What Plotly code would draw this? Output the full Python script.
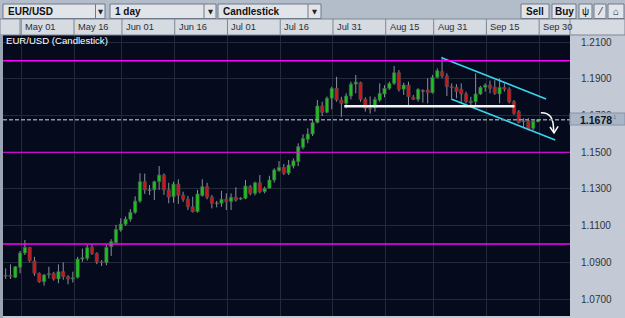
import numpy as np
import pandas as pd
import plotly.graph_objects as go

# ---------------- data ----------------
trade_dates = pd.bdate_range("2020-04-27", "2020-09-29")

open_ = [1.0825, 1.0829, 1.0818, 1.0873, 1.0951, 1.0982, 1.0907, 1.0840, 1.0794, 1.0833,
         1.0840, 1.0809, 1.0849, 1.0822, 1.0809, 1.0818, 1.0918, 1.0922, 1.0982, 1.0949,
         1.0903, 1.0898, 1.0985, 1.1007, 1.1076, 1.1107, 1.1135, 1.1173, 1.1234, 1.1340,
         1.1295, 1.1295, 1.1340, 1.1376, 1.1295, 1.1258, 1.1327, 1.1267, 1.1244, 1.1203,
         1.1176, 1.1264, 1.1313, 1.1255, 1.1222, 1.1222, 1.1244, 1.1231, 1.1255, 1.1245,
         1.1249, 1.1313, 1.1276, 1.1334, 1.1285, 1.1304, 1.1349, 1.1400, 1.1418, 1.1386,
         1.1425, 1.1449, 1.1527, 1.1571, 1.1600, 1.1662, 1.1753, 1.1718, 1.1795, 1.1849,
         1.1785, 1.1767, 1.1807, 1.1872, 1.1880, 1.1789, 1.1740, 1.1745, 1.1785, 1.1818,
         1.1849, 1.1876, 1.1934, 1.1844, 1.1867, 1.1800, 1.1789, 1.1836, 1.1840, 1.1825,
         1.1909, 1.1940, 1.1916, 1.1858, 1.1855, 1.1844, 1.1818, 1.1771, 1.1776, 1.1818,
         1.1855, 1.1867, 1.1855, 1.1818, 1.1855, 1.1844, 1.1776, 1.1722, 1.1666, 1.1673,
         1.1631, 1.1667]
high_ = [1.0867, 1.0889, 1.0880, 1.0962, 1.1022, 1.0984, 1.0930, 1.0845, 1.0836, 1.0876,
         1.0848, 1.0889, 1.0900, 1.0830, 1.0849, 1.0930, 1.0975, 1.0995, 1.1000, 1.0955,
         1.0912, 1.0995, 1.1026, 1.1104, 1.1140, 1.1150, 1.1190, 1.1260, 1.1386, 1.1384,
         1.1322, 1.1345, 1.1425, 1.1385, 1.1334, 1.1340, 1.1353, 1.1285, 1.1262, 1.1258,
         1.1295, 1.1353, 1.1334, 1.1267, 1.1235, 1.1290, 1.1276, 1.1276, 1.1309, 1.1255,
         1.1349, 1.1322, 1.1340, 1.1376, 1.1313, 1.1372, 1.1413, 1.1452, 1.1436, 1.1458,
         1.1467, 1.1549, 1.1598, 1.1631, 1.1676, 1.1785, 1.1776, 1.1804, 1.1858, 1.1912,
         1.1803, 1.1822, 1.1885, 1.1922, 1.1885, 1.1800, 1.1805, 1.1803, 1.1876, 1.1866,
         1.1885, 1.1971, 1.1949, 1.1880, 1.1885, 1.1813, 1.1849, 1.1844, 1.1904, 1.1922,
         1.1958, 1.2021, 1.1931, 1.1876, 1.1872, 1.1876, 1.1831, 1.1803, 1.1931, 1.1862,
         1.1876, 1.1891, 1.1894, 1.1904, 1.1876, 1.1855, 1.1785, 1.1731, 1.1686, 1.1686,
         1.1680, 1.1682]
low_ = [1.0809, 1.0809, 1.0814, 1.0840, 1.0940, 1.0900, 1.0826, 1.0788, 1.0773, 1.0812,
        1.0800, 1.0786, 1.0805, 1.0780, 1.0790, 1.0812, 1.0903, 1.0910, 1.0940, 1.0890,
        1.0880, 1.0884, 1.0935, 1.1004, 1.1067, 1.1098, 1.1122, 1.1164, 1.1225, 1.1273,
        1.1267, 1.1240, 1.1295, 1.1267, 1.1222, 1.1225, 1.1218, 1.1230, 1.1185, 1.1171,
        1.1171, 1.1258, 1.1244, 1.1194, 1.1200, 1.1203, 1.1185, 1.1185, 1.1231, 1.1240,
        1.1244, 1.1265, 1.1265, 1.1276, 1.1276, 1.1302, 1.1335, 1.1394, 1.1376, 1.1376,
        1.1412, 1.1425, 1.1516, 1.1549, 1.1589, 1.1658, 1.1698, 1.1713, 1.1735, 1.1776,
        1.1694, 1.1740, 1.1789, 1.1822, 1.1776, 1.1722, 1.1711, 1.1722, 1.1776, 1.1800,
        1.1840, 1.1867, 1.1831, 1.1813, 1.1758, 1.1785, 1.1776, 1.1771, 1.1767, 1.1820,
        1.1903, 1.1904, 1.1807, 1.1795, 1.1795, 1.1771, 1.1767, 1.1758, 1.1758, 1.1813,
        1.1831, 1.1822, 1.1813, 1.1767, 1.1831, 1.1767, 1.1704, 1.1658, 1.1631, 1.1620,
        1.1620, 1.1664]
close_ = [1.0828, 1.0822, 1.0876, 1.0951, 1.0982, 1.0909, 1.0840, 1.0794, 1.0831, 1.0838,
          1.0809, 1.0849, 1.0822, 1.0809, 1.0815, 1.0918, 1.0925, 1.0980, 1.0949, 1.0903,
          1.0898, 1.0982, 1.1013, 1.1080, 1.1109, 1.1136, 1.1173, 1.1234, 1.1340, 1.1295,
          1.1293, 1.1340, 1.1376, 1.1295, 1.1255, 1.1327, 1.1266, 1.1244, 1.1203, 1.1176,
          1.1273, 1.1313, 1.1255, 1.1222, 1.1222, 1.1244, 1.1231, 1.1255, 1.1240, 1.1250,
          1.1316, 1.1276, 1.1334, 1.1285, 1.1304, 1.1349, 1.1404, 1.1418, 1.1386, 1.1431,
          1.1454, 1.1531, 1.1576, 1.1600, 1.1662, 1.1753, 1.1718, 1.1795, 1.1849, 1.1785,
          1.1767, 1.1807, 1.1872, 1.1883, 1.1789, 1.1740, 1.1736, 1.1789, 1.1822, 1.1849,
          1.1876, 1.1934, 1.1844, 1.1867, 1.1803, 1.1789, 1.1844, 1.1834, 1.1825, 1.1909,
          1.1945, 1.1916, 1.1858, 1.1853, 1.1831, 1.1818, 1.1776, 1.1778, 1.1818, 1.1855,
          1.1867, 1.1849, 1.1822, 1.1855, 1.1844, 1.1776, 1.1713, 1.1662, 1.1670, 1.1626,
          1.1670, 1.1678]

date_labels = ["May 01", "May 16", "Jun 01", "Jun 16", "Jul 01", "Jul 16",
               "Jul 31", "Aug 15", "Aug 31", "Sep 15", "Sep 30"]
label_dates = ["2020-05-01", "2020-05-16", "2020-06-01", "2020-06-16", "2020-07-01",
               "2020-07-16", "2020-07-31", "2020-08-15", "2020-08-31", "2020-09-15",
               "2020-09-30"]

price_ticks = [1.07, 1.09, 1.11, 1.13, 1.15, 1.17, 1.19, 1.21]
price_tick_text = ["1.0700", "1.0900", "1.1100", "1.1300", "1.1500", "1.1700",
                   "1.1900", "1.2100"]
levels = [1.2000, 1.1500, 1.1000]
level_widths = [1.5, 1.1, 1.4]
current_price = 1.1678

# drawn objects (x in bar-index units, y in price)
channel_upper_x = [90.9, 112.7]
channel_upper_y = [1.2016, 1.1791]
channel_lower_x = [92.9, 114.6]
channel_lower_y = [1.1791, 1.1567]
support_x = [70.6, 106.1]
support_y = [1.1751, 1.1751]
arrow_x = [111.6, 112.8, 113.6, 114.1, 114.3, 114.35]
arrow_y = [1.1716, 1.1711, 1.1695, 1.1665, 1.1614, 1.1606]
arrowhead_x = [113.5, 114.35, 115.2]
arrowhead_y = [1.1638, 1.1606, 1.1641]

# ---------------- figure geometry ----------------
W, H = 625, 318
ML, MR, MT, MB = 3, 55, 35, 2
PW, PH = W - ML - MR, H - MT - MB
X_RANGE = [-0.563, 117.68]
Y_RANGE = [1.06073, 1.21398]


def px(x):
    return (x - ML) / PW


def py(y):
    return (H - MB - y) / PH


o = np.array(open_)
h = np.array(high_)
l = np.array(low_)
c = np.array(close_)
idx = np.arange(len(o))

# candle bodies
body_lo = np.minimum(o, c)
body_hi = np.maximum(o, c)
body_h = np.maximum(body_hi - body_lo, 0.00035)
body_base = (body_lo + body_hi) / 2 - body_h / 2
colors = []
for i in range(len(o)):
    if abs(c[i] - o[i]) < 0.00025:
        colors.append("#9aa0a8")
    elif c[i] > o[i]:
        colors.append("#1fbf1f")
    else:
        colors.append("#c8191b")
colors[-1] = "#4cf04c"

# wicks (split so they do not cross bodies)
wx, wy = [], []
for i in range(len(o)):
    wx += [i, i, None, i, i, None]
    wy += [body_hi[i], h[i], None, l[i], body_lo[i], None]

# x positions of calendar labels
tick_pos = []
for d in label_dates:
    k = int(np.searchsorted(trade_dates.values, np.datetime64(d)))
    tick_pos.append(k - 0.75)

fig = go.Figure()

fig.add_trace(go.Scatter(x=wx, y=wy, mode="lines",
                         line=dict(color="#8a9099", width=1),
                         hoverinfo="skip", showlegend=False))
fig.add_trace(go.Bar(x=idx, y=body_h, base=body_base, width=0.7,
                     marker=dict(color=colors, line=dict(color="#4a5058", width=0.6)),
                     showlegend=False, hoverinfo="skip"))

# channel, support and arrow drawings
for xs, ys in [(channel_upper_x, channel_upper_y), (channel_lower_x, channel_lower_y)]:
    fig.add_trace(go.Scatter(x=xs, y=ys, mode="lines",
                             line=dict(color="#38d4ef", width=1.6),
                             hoverinfo="skip", showlegend=False))
fig.add_trace(go.Scatter(x=support_x, y=support_y, mode="lines",
                         line=dict(color="#f4f4f4", width=2.6),
                         hoverinfo="skip", showlegend=False))
fig.add_trace(go.Scatter(x=arrow_x, y=arrow_y, mode="lines",
                         line=dict(color="#ffffff", width=1.5, shape="spline"),
                         hoverinfo="skip", showlegend=False))
fig.add_trace(go.Scatter(x=arrowhead_x, y=arrowhead_y, mode="lines",
                         line=dict(color="#ffffff", width=1.5),
                         hoverinfo="skip", showlegend=False))

shapes = []
# horizontal magenta levels
for lv, lw in zip(levels, level_widths):
    shapes.append(dict(type="line", xref="paper", yref="y", x0=0, x1=1, y0=lv, y1=lv,
                       line=dict(color="#ff00ff", width=lw), layer="above"))
# current price dashed line
shapes.append(dict(type="line", xref="paper", yref="y", x0=0, x1=1,
                   y0=current_price, y1=current_price,
                   line=dict(color="#8d96a6", width=1.5, dash="4px,2px"), layer="above"))

# ---------------- chrome: toolbar + header ----------------
TOOL_BG = "#b3bdca"
shapes.append(dict(type="rect", xref="paper", yref="paper", x0=px(0), x1=px(W),
                   y0=py(19), y1=py(0), fillcolor=TOOL_BG, line=dict(width=0), layer="above"))
shapes.append(dict(type="rect", xref="paper", yref="paper", x0=px(0), x1=px(W),
                   y0=py(35), y1=py(19), fillcolor="#d6dae1",
                   line=dict(color="#7c8695", width=1), layer="above"))
shapes.append(dict(type="line", xref="paper", yref="paper", x0=px(20), x1=px(20),
                   y0=py(35), y1=py(19), line=dict(color="#7c8695", width=1), layer="above"))
shapes.append(dict(type="line", xref="paper", yref="paper", x0=1, x1=1,
                   y0=py(35), y1=py(19), line=dict(color="#7c8695", width=1), layer="above"))
# left border
shapes.append(dict(type="rect", xref="paper", yref="paper", x0=px(0), x1=px(ML),
                   y0=py(H), y1=py(35), fillcolor="#9aa4b2", line=dict(width=0), layer="above"))

annotations = []
for pos, lab in zip(tick_pos, date_labels):
    shapes.append(dict(type="line", xref="x", yref="paper", x0=pos, x1=pos,
                       y0=py(35), y1=py(19), line=dict(color="#7c8695", width=1),
                       layer="above"))
    annotations.append(dict(x=pos, y=py(27.5), xref="x", yref="paper", text=lab,
                            showarrow=False, xanchor="left", yanchor="middle", xshift=2,
                            font=dict(family="Liberation Sans, Arial", size=9.3,
                                      color="#2b2f36")))

# dropdowns
dropdowns = [(3, 105, 95.5, "EUR/USD"), (110, 216, 204, "1 day"), (218, 321, 308, "Candlestick")]
for x0, x1, xd, txt in dropdowns:
    shapes.append(dict(type="rect", xref="paper", yref="paper", x0=px(x0), x1=px(x1),
                       y0=py(18.5), y1=py(4), fillcolor="#e1e5ea",
                       line=dict(color="#6f7989", width=1), layer="above"))
    shapes.append(dict(type="line", xref="paper", yref="paper", x0=px(xd), x1=px(xd),
                       y0=py(18.5), y1=py(4), line=dict(color="#6f7989", width=1),
                       layer="above"))
    annotations.append(dict(x=px(x0 + 3), y=py(11.3), xref="paper", yref="paper",
                            text="<b>%s</b>" % txt, showarrow=False, xanchor="left",
                            yanchor="middle",
                            font=dict(family="Liberation Sans, Arial", size=10,
                                      color="#111111")))
    annotations.append(dict(x=px((xd + x1) / 2), y=py(11.5), xref="paper", yref="paper",
                            text="▼", showarrow=False, xanchor="center", yanchor="middle",
                            font=dict(family="DejaVu Sans", size=6.5, color="#222222")))

buttons = [(521, 549, "<b>Sell</b>"), (552, 576, "<b>Buy</b>"),
           (579, 592, "ψ"), (594, 606, "⁄"), (608, 624, "⌂")]
for x0, x1, txt in buttons:
    shapes.append(dict(type="rect", xref="paper", yref="paper", x0=px(x0), x1=px(x1),
                       y0=py(18.5), y1=py(4), fillcolor="#e1e5ea",
                       line=dict(color="#6f7989", width=1), layer="above"))
    annotations.append(dict(x=px((x0 + x1) / 2), y=py(11.3), xref="paper", yref="paper",
                            text=txt, showarrow=False, xanchor="center", yanchor="middle",
                            font=dict(family="Liberation Sans, Arial", size=10,
                                      color="#111111")))

# current price box on the axis
shapes.append(dict(type="rect", xref="paper", yref="paper", x0=1, x1=px(W),
                   y0=py(125), y1=py(113), fillcolor="#a9b6c8",
                   line=dict(color="#8794a8", width=1), layer="above"))
annotations.append(dict(x=px(578), y=current_price, xref="paper", yref="y",
                        text="<b>%.4f</b>" % current_price, showarrow=False,
                        xanchor="left", yanchor="middle",
                        font=dict(family="Liberation Sans, Arial", size=10.5,
                                  color="#0c1424")))
annotations.append(dict(x=px(611), y=current_price, xref="paper", yref="y", yshift=3,
                        text="1", showarrow=False, xanchor="left", yanchor="middle",
                        font=dict(family="Liberation Sans, Arial", size=6,
                                  color="#6a7483")))
# chart title inside plot
annotations.append(dict(x=px(4), y=py(40.5), xref="paper", yref="paper",
                        text="EUR/USD (Candlestick)", showarrow=False, xanchor="left",
                        yanchor="middle",
                        font=dict(family="Liberation Sans, Arial", size=9.6,
                                  color="#ffffff")))

fig.update_layout(
    width=W, height=H,
    margin=dict(l=ML, r=MR, t=MT, b=MB, pad=0),
    paper_bgcolor="#c3cad5",
    plot_bgcolor="#050b1d",
    barmode="overlay",
    showlegend=False,
    shapes=shapes,
    annotations=annotations,
    xaxis=dict(range=X_RANGE, tickvals=tick_pos, showticklabels=False, ticks="",
               showgrid=True, gridcolor="#232a3a", gridwidth=1, zeroline=False,
               showline=False, fixedrange=True),
    yaxis=dict(range=Y_RANGE, side="right", tickvals=price_ticks, ticktext=price_tick_text,
               showgrid=True, gridcolor="#232a3a", gridwidth=1, zeroline=False,
               showline=False, ticks="", ticklabelstandoff=10,
               tickfont=dict(family="Liberation Sans, Arial", size=10, color="#2e3440"),
               fixedrange=True),
)

fig.write_html("out.html")
